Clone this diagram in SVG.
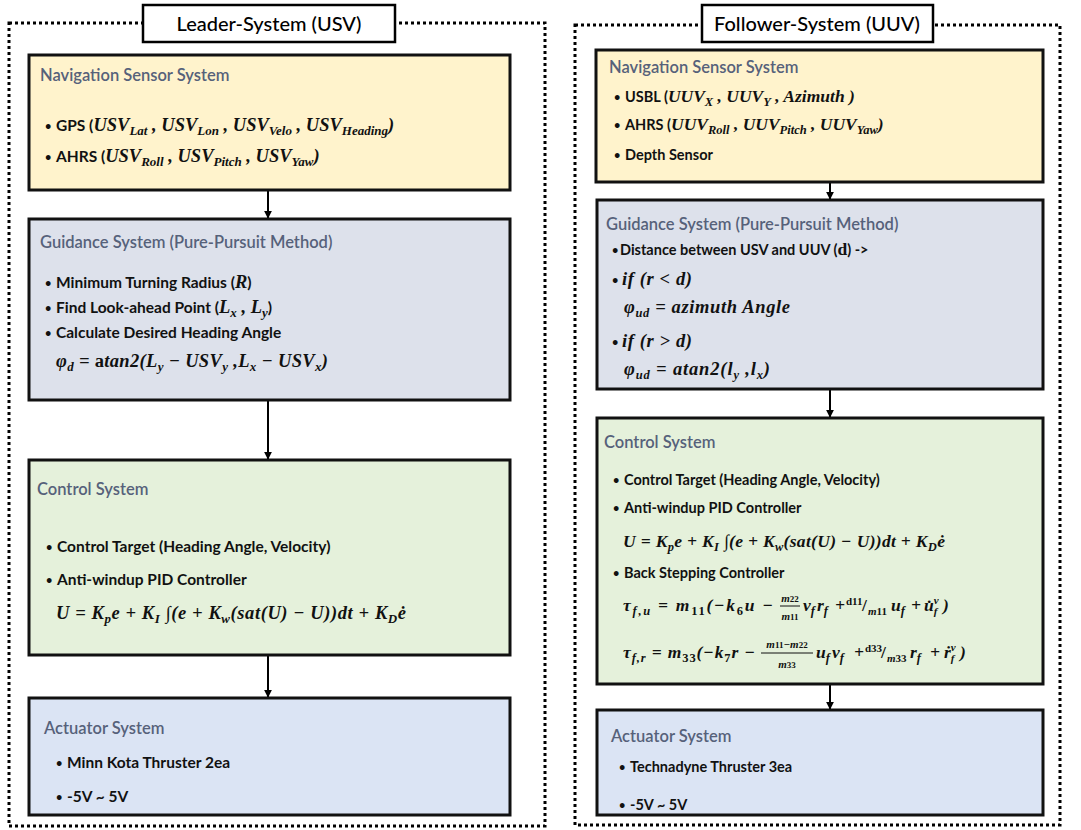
<svg xmlns="http://www.w3.org/2000/svg" width="1081" height="830" viewBox="0 0 1081 830">
<style>
.frame{fill:none;stroke:#000;stroke-width:3;stroke-dasharray:3 3}
.hdr{fill:#fff;stroke:#000;stroke-width:2.5}
.box{stroke:#111;stroke-width:3}
.nav{fill:#FFF3CC}
.gui{fill:#DDE1EB}
.ctl{fill:#E5F1DB}
.act{fill:#DBE4F4}
.ht{font-family:Lato,"Open Sans",sans-serif;font-weight:500;font-size:20px;fill:#000}
.st{font-family:Lato,"Open Sans",sans-serif;font-weight:600;font-size:16.5px;fill:#56617a}
.b{font-family:Lato,"Open Sans",sans-serif;font-weight:bold;font-size:15.5px;fill:#111}
.b2{font-family:Lato,"Open Sans",sans-serif;font-weight:bold;font-size:14.5px;fill:#111}
.bu{font-size:11px}
.m{font-family:"Liberation Serif",serif;font-weight:bold;font-style:italic;font-size:18.5px;fill:#111}
.m2{font-family:"Liberation Serif",serif;font-weight:bold;font-style:italic;font-size:17.5px;fill:#111}
.m3{font-family:"Liberation Serif",serif;font-weight:bold;font-style:italic;font-size:18.5px;fill:#111}
.s{font-size:13px}
.s2{font-size:12.5px}
.s3{font-size:11px}
.up{font-style:normal}
.conn line{stroke:#000;stroke-width:2}
.fb{stroke:#111;stroke-width:1}
</style>
<defs>
<marker id="arr" viewBox="0 0 10 10" refX="9" refY="5" markerWidth="4" markerHeight="4" orient="auto">
<path d="M0,0 L10,5 L0,10 z" fill="#000"/>
</marker>
</defs>

<g id="leader-frame">
<rect class="frame" x="9" y="23" width="536" height="803"/>
<rect class="hdr" x="143" y="5" width="252" height="37"/>
<text class="ht" x="269" y="31" text-anchor="middle">Leader-System (USV)</text>
</g>

<g id="follower-frame">
<rect class="frame" x="575" y="25" width="485" height="800"/>
<rect class="hdr" x="702" y="5" width="231" height="37"/>
<text class="ht" x="817" y="31" text-anchor="middle">Follower-System (UUV)</text>
</g>

<g class="conn" id="connectors">
<line x1="268" y1="191" x2="268" y2="218" marker-end="url(#arr)"/>
<line x1="268" y1="401" x2="268" y2="459" marker-end="url(#arr)"/>
<line x1="268" y1="656" x2="268" y2="697" marker-end="url(#arr)"/>
<line x1="830" y1="183" x2="830" y2="199" marker-end="url(#arr)"/>
<line x1="830" y1="390" x2="830" y2="417" marker-end="url(#arr)"/>
<line x1="830" y1="685" x2="830" y2="709" marker-end="url(#arr)"/>
</g>

<g id="l-nav">
<rect class="box nav" x="29" y="55" width="481" height="135"/>
<text class="st" x="40" y="81">Navigation Sensor System</text>
<text class="b" y="131"><tspan class="bu" x="45" dy="-1">•</tspan><tspan x="56" dy="1">GPS (</tspan><tspan class="m">USV</tspan><tspan class="m s" dy="4">Lat</tspan><tspan class="m" dy="-4"> , USV</tspan><tspan class="m s" dy="4">Lon</tspan><tspan class="m" dy="-4"> , USV</tspan><tspan class="m s" dy="4">Velo</tspan><tspan class="m" dy="-4"> , USV</tspan><tspan class="m s" dy="4">Heading</tspan><tspan class="m" dy="-4">)</tspan></text>
<text class="b" y="162"><tspan class="bu" x="45" dy="-1">•</tspan><tspan x="56" dy="1">AHRS (</tspan><tspan class="m">USV</tspan><tspan class="m s" dy="4">Roll</tspan><tspan class="m" dy="-4"> , USV</tspan><tspan class="m s" dy="4">Pitch</tspan><tspan class="m" dy="-4"> , USV</tspan><tspan class="m s" dy="4">Yaw</tspan><tspan class="m" dy="-4">)</tspan></text>
</g>

<g id="l-guidance">
<rect class="box gui" x="29" y="219" width="481" height="181"/>
<text class="st" x="40" y="248">Guidance System (Pure-Pursuit Method)</text>
<text class="b" y="288"><tspan class="bu" x="45" dy="-1">•</tspan><tspan x="56" dy="1">Minimum Turning Radius (</tspan><tspan class="m">R</tspan>)</text>
<text class="b" y="313"><tspan class="bu" x="45" dy="-1">•</tspan><tspan x="56" dy="1">Find Look-ahead Point (</tspan><tspan class="m">L</tspan><tspan class="m s" dy="4">x</tspan><tspan class="m" dy="-4"> , L</tspan><tspan class="m s" dy="4">y</tspan><tspan dy="-4">)</tspan></text>
<text class="b" y="338"><tspan class="bu" x="45" dy="-1">•</tspan><tspan x="56" dy="1">Calculate Desired Heading Angle</tspan></text>
<text class="m" x="56" y="367" textLength="272" lengthAdjust="spacing">φ<tspan class="s" dy="4">d</tspan><tspan dy="-4"> = </tspan><tspan class="up">a</tspan>tan2(L<tspan class="s" dy="4">y</tspan><tspan dy="-4"> − USV</tspan><tspan class="s" dy="4">y</tspan><tspan dy="-4"> ,L</tspan><tspan class="s" dy="4">x</tspan><tspan dy="-4"> − USV</tspan><tspan class="s" dy="4">x</tspan><tspan dy="-4">)</tspan></text>
</g>

<g id="l-control">
<rect class="box ctl" x="29" y="460" width="481" height="195"/>
<text class="st" x="37" y="495">Control System</text>
<text class="b" y="552"><tspan class="bu" x="46" dy="-1">•</tspan><tspan x="57" dy="1">Control Target (Heading Angle, Velocity)</tspan></text>
<text class="b" y="585"><tspan class="bu" x="46" dy="-1">•</tspan><tspan x="57" dy="1">Anti-windup  PID Controller</tspan></text>
<text class="m" x="56" y="619" textLength="350" lengthAdjust="spacing">U = K<tspan class="s" dy="4">p</tspan><tspan dy="-4">e + K</tspan><tspan class="s" dy="4">I</tspan><tspan dy="-4"> ∫(e + K</tspan><tspan class="s" dy="4">w</tspan><tspan dy="-4">(sat(U) − U))dt + K</tspan><tspan class="s" dy="4">D</tspan><tspan dy="-4">ė</tspan></text>
</g>

<g id="l-actuator">
<rect class="box act" x="29" y="698" width="481" height="117"/>
<text class="st" x="44" y="734">Actuator System</text>
<text class="b" y="768"><tspan class="bu" x="56" dy="-1">•</tspan><tspan x="67" dy="1">Minn Kota Thruster 2ea</tspan></text>
<text class="b" y="802"><tspan class="bu" x="56" dy="-1">•</tspan><tspan x="67" dy="1">-5V ~ 5V</tspan></text>
</g>

<g id="r-nav">
<rect class="box nav" x="596" y="50" width="447" height="132"/>
<text class="st" x="609" y="73">Navigation Sensor System</text>
<text class="b2" y="102"><tspan class="bu" x="614" dy="-1">•</tspan><tspan x="625" dy="1">USBL (</tspan><tspan class="m2">UUV</tspan><tspan class="m2 s2" dy="4">X</tspan><tspan class="m2" dy="-4"> , UUV</tspan><tspan class="m2 s2" dy="4">Y</tspan><tspan class="m2" dy="-4"> , Azimuth )</tspan></text>
<text class="b2" y="130"><tspan class="bu" x="614" dy="-1">•</tspan><tspan x="625" dy="1">AHRS (</tspan><tspan class="m2">UUV</tspan><tspan class="m2 s2" dy="4">Roll</tspan><tspan class="m2" dy="-4"> , UUV</tspan><tspan class="m2 s2" dy="4">Pitch</tspan><tspan class="m2" dy="-4"> , UUV</tspan><tspan class="m2 s2" dy="4">Yaw</tspan><tspan class="m2" dy="-4">)</tspan></text>
<text class="b2" y="160"><tspan class="bu" x="614" dy="-1">•</tspan><tspan x="625" dy="1">Depth Sensor</tspan></text>
</g>

<g id="r-guidance">
<rect class="box gui" x="597" y="200" width="446" height="189"/>
<text class="st" x="606" y="230">Guidance System (Pure-Pursuit Method)</text>
<text class="b2" y="255"><tspan class="bu" x="612" dy="-1">•</tspan><tspan x="620" dy="1">Distance between USV and UUV (</tspan><tspan class="m2 up">d</tspan>) -&gt;</text>
<text class="b2 bu" x="612" y="284">•</text>
<text class="m3" x="622" y="285" textLength="70" lengthAdjust="spacing">if (r &lt; d)</text>
<text class="m3" x="624" y="313" textLength="166" lengthAdjust="spacing">φ<tspan class="s2" dy="4">ud</tspan><tspan dy="-4"> = azimuth Angle</tspan></text>
<text class="b2 bu" x="612" y="346">•</text>
<text class="m3" x="622" y="347" textLength="70" lengthAdjust="spacing">if (r &gt; d)</text>
<text class="m3" x="624" y="375" textLength="146" lengthAdjust="spacing">φ<tspan class="s2" dy="4">ud</tspan><tspan dy="-4"> = atan2(l</tspan><tspan class="s2" dy="4">y</tspan><tspan dy="-4"> ,l</tspan><tspan class="s2" dy="4">x</tspan><tspan dy="-4">)</tspan></text>
</g>

<g id="r-control">
<rect class="box ctl" x="597" y="418" width="446" height="266"/>
<text class="st" x="604" y="448">Control System</text>
<text class="b2" y="485"><tspan class="bu" x="613" dy="-1">•</tspan><tspan x="624" dy="1">Control Target (Heading Angle, Velocity)</tspan></text>
<text class="b2" y="513"><tspan class="bu" x="613" dy="-1">•</tspan><tspan x="624" dy="1">Anti-windup  PID Controller</tspan></text>
<text class="m2" x="623" y="547" textLength="322" lengthAdjust="spacing">U = K<tspan class="s2" dy="4">p</tspan><tspan dy="-4">e + K</tspan><tspan class="s2" dy="4">I</tspan><tspan dy="-4"> ∫(e + K</tspan><tspan class="s2" dy="4">w</tspan><tspan dy="-4">(sat(U) − U))dt + K</tspan><tspan class="s2" dy="4">D</tspan><tspan dy="-4">ė</tspan></text>
<text class="b2" y="578"><tspan class="bu" x="613" dy="-1">•</tspan><tspan x="624" dy="1">Back Stepping Controller</tspan></text>

<text class="m2" x="623" y="611" textLength="150" lengthAdjust="spacing">τ<tspan class="s2" dy="4">f,u</tspan><tspan dy="-4"> = m</tspan><tspan class="s2 up" dy="4">11</tspan><tspan dy="-4">(−k</tspan><tspan class="s2 up" dy="4">6</tspan><tspan dy="-4">u −</tspan></text>
<text class="m2 s3" x="790" y="602" text-anchor="middle">m<tspan class="up" font-size="9">22</tspan></text>
<line class="fb" x1="780" y1="606" x2="800" y2="606"/>
<text class="m2 s3" x="790" y="620" text-anchor="middle">m<tspan class="up" font-size="9">11</tspan></text>
<text class="m2" y="611"><tspan x="803">v</tspan><tspan class="s2" dy="4">f</tspan><tspan x="817" dy="-4">r</tspan><tspan class="s2" dy="4">f</tspan><tspan x="835" dy="-4">+</tspan><tspan class="s3 up" x="846" dy="-6">d11</tspan><tspan class="up" x="862" dy="6">/</tspan><tspan class="s3" x="868" dy="4">m</tspan><tspan class="s3 up">11</tspan><tspan x="891" dy="-4">u</tspan><tspan class="s2" dy="4">f</tspan><tspan x="911" dy="-4">+</tspan><tspan x="924">u̇</tspan><tspan class="s3" dy="-7">v</tspan><tspan class="s3" dx="-5" dy="11">f</tspan><tspan x="943" dy="-4">)</tspan></text>

<text class="m2" x="623" y="658" textLength="132" lengthAdjust="spacing">τ<tspan class="s2" dy="4">f,r</tspan><tspan dy="-4"> = m</tspan><tspan class="s2 up" dy="4">33</tspan><tspan dy="-4">(−k</tspan><tspan class="s2 up" dy="4">7</tspan><tspan dy="-4">r −</tspan></text>
<text class="m2 s3" x="787" y="648" text-anchor="middle">m<tspan class="up" font-size="9">11</tspan>−m<tspan class="up" font-size="9">22</tspan></text>
<line class="fb" x1="761" y1="653" x2="813" y2="653"/>
<text class="m2 s3" x="787" y="668" text-anchor="middle">m<tspan class="up" font-size="9">33</tspan></text>
<text class="m2" y="658"><tspan x="816">u</tspan><tspan class="s2" dy="4">f</tspan><tspan x="832" dy="-4">v</tspan><tspan class="s2" dy="4">f</tspan><tspan x="854" dy="-4">+</tspan><tspan class="s3 up" x="865" dy="-6">d33</tspan><tspan class="up" x="881" dy="6">/</tspan><tspan class="s3" x="887" dy="4">m</tspan><tspan class="s3 up">33</tspan><tspan x="910" dy="-4">r</tspan><tspan class="s2" dy="4">f</tspan><tspan x="930" dy="-4">+</tspan><tspan x="944">ṙ</tspan><tspan class="s3" dy="-7">v</tspan><tspan class="s3" dx="-5" dy="11">f</tspan><tspan x="960" dy="-4">)</tspan></text>
</g>

<g id="r-actuator">
<rect class="box act" x="597" y="710" width="446" height="105"/>
<text class="st" x="611" y="742">Actuator System</text>
<text class="b2" y="772"><tspan class="bu" x="619" dy="-1">•</tspan><tspan x="630" dy="1">Technadyne Thruster 3ea</tspan></text>
<text class="b2" y="810"><tspan class="bu" x="619" dy="-1">•</tspan><tspan x="630" dy="1">-5V ~ 5V</tspan></text>
</g>
</svg>
